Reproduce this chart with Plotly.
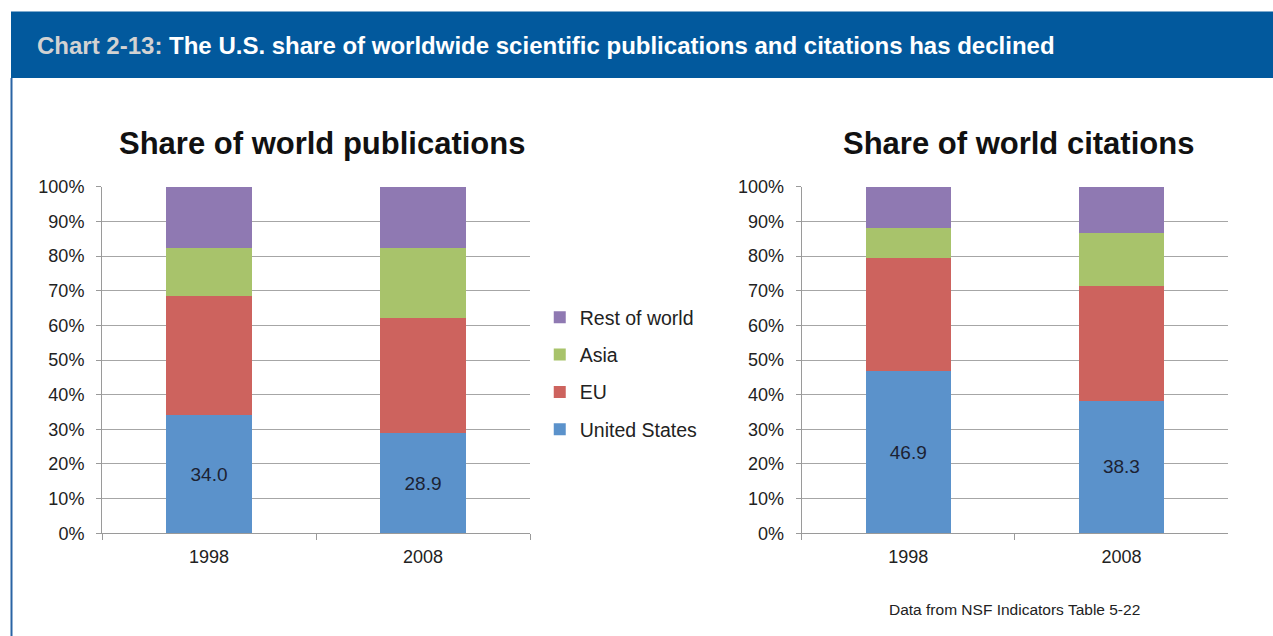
import plotly.graph_objects as go

years = ["1998", "2008"]
series_names = ["United States", "EU", "Asia", "Rest of world"]
legend_ranks = [4, 3, 2, 1]
colors = ["#5b92cb", "#cd635e", "#a8c36b", "#8f79b2"]

pub_us = [34.0, 28.9]
pub_eu = [34.6, 33.1]
pub_asia = [13.7, 20.3]
pub_rest = [17.7, 17.7]

cit_us = [46.9, 38.3]
cit_eu = [32.4, 33.1]
cit_asia = [8.7, 15.1]
cit_rest = [12.0, 13.5]

y_ticks = [0, 10, 20, 30, 40, 50, 60, 70, 80, 90, 100]
y_tick_labels = [f"{v}%" for v in y_ticks]

W, H = 1273, 636
FONT = "Liberation Sans, Arial, sans-serif"

fig = go.Figure()

pub = [pub_us, pub_eu, pub_asia, pub_rest]
cit = [cit_us, cit_eu, cit_asia, cit_rest]

for i, name in enumerate(series_names):
    fig.add_trace(go.Bar(
        x=years, y=pub[i], name=name, marker=dict(color=colors[i], line=dict(width=0)),
        width=0.4, xaxis="x", yaxis="y", legendgroup=name, legendrank=legend_ranks[i],
        showlegend=True,
        text=[f"{v:.1f}" for v in pub[i]] if i == 0 else None,
        textposition="inside" if i == 0 else "none", insidetextanchor="middle",
        textfont=dict(size=19, color="#1c2233", family=FONT),
        hoverinfo="name+y",
    ))
for i, name in enumerate(series_names):
    fig.add_trace(go.Bar(
        x=years, y=cit[i], name=name, marker=dict(color=colors[i], line=dict(width=0)),
        width=0.4, xaxis="x2", yaxis="y2", legendgroup=name, legendrank=legend_ranks[i],
        showlegend=False,
        text=[f"{v:.1f}" for v in cit[i]] if i == 0 else None,
        textposition="inside" if i == 0 else "none", insidetextanchor="middle",
        textfont=dict(size=19, color="#1c2233", family=FONT),
        hoverinfo="name+y",
    ))

ydom = [1 - 533.3 / H, 1 - 186.7 / H]
xdom1 = [102 / W, 530 / W]
xdom2 = [801.7 / W, 1228 / W]

axis_common_x = dict(
    type="category", showline=True, linecolor="#9a9a9a", linewidth=1,
    ticks="outside", tickson="boundaries", ticklen=6, tickcolor="#9a9a9a",
    showgrid=False, tickfont=dict(size=18, color="#222222", family=FONT),
    ticklabelstandoff=7, fixedrange=True, automargin=False,
)
axis_common_y = dict(
    range=[0, 100], tickvals=y_ticks, ticktext=y_tick_labels,
    showline=True, linecolor="#9a9a9a", linewidth=1,
    ticks="outside", ticklen=5, tickcolor="#9a9a9a",
    showgrid=True, gridcolor="#a6a6a6", gridwidth=1,
    tickfont=dict(size=18, color="#222222", family=FONT),
    ticklabelstandoff=8, zeroline=False, fixedrange=True, automargin=False,
)

fig.update_layout(
    width=W, height=H, autosize=False,
    margin=dict(l=0, r=0, t=0, b=0, pad=0, autoexpand=False),
    paper_bgcolor="white", plot_bgcolor="white",
    barmode="stack",
    font=dict(family=FONT, color="#222222"),
    xaxis=dict(domain=xdom1, anchor="y", **axis_common_x),
    yaxis=dict(domain=ydom, anchor="x", **axis_common_y),
    xaxis2=dict(domain=xdom2, anchor="y2", **axis_common_x),
    yaxis2=dict(domain=ydom, anchor="x2", **axis_common_y),
    legend=dict(
        x=0.424, y=1 - 298 / H, xanchor="left", yanchor="top",
        traceorder="grouped", tracegroupgap=9,
        font=dict(size=19.5, color="#222222", family=FONT),
        bgcolor="rgba(0,0,0,0)", itemwidth=30,
    ),
    showlegend=True,
)

# Banner and frame
fig.add_shape(type="rect", xref="paper", yref="paper",
              x0=11 / W, x1=1, y0=1 - 78 / H, y1=1 - 11.5 / H,
              fillcolor="#02599d", line=dict(width=0), layer="below")
fig.add_shape(type="line", xref="paper", yref="paper",
              x0=11.5 / W, x1=11.5 / W, y0=0, y1=1 - 78 / H,
              line=dict(color="#2a64a4", width=2))

fig.add_annotation(
    xref="paper", yref="paper", x=35 / W, y=1 - 45 / H, xanchor="left", yanchor="middle",
    text="<b><span style='color:#d2d2d2'>Chart 2-13:</span> The U.S. share of worldwide scientific publications and citations has declined</b>",
    showarrow=False, font=dict(size=24, color="white", family=FONT),
)

fig.add_annotation(
    xref="paper", yref="paper", x=322 / W, y=1 - 143 / H, xanchor="center", yanchor="middle",
    text="<b>Share of world publications</b>", showarrow=False,
    font=dict(size=31, color="#111111", family=FONT),
)
fig.add_annotation(
    xref="paper", yref="paper", x=1018 / W, y=1 - 143 / H, xanchor="center", yanchor="middle",
    text="<b>Share of world citations</b>", showarrow=False,
    font=dict(size=31, color="#111111", family=FONT),
)
fig.add_annotation(
    xref="paper", yref="paper", x=1014 / W, y=1 - 609 / H, xanchor="center", yanchor="middle",
    text="Data from NSF Indicators Table 5-22", showarrow=False,
    font=dict(size=15.5, color="#222222", family=FONT),
)

fig.write_html(
    "out.html",
    config={"displayModeBar": False},
    post_script=(
        "document.documentElement.style.margin='0';"
        "document.documentElement.style.overflow='hidden';"
        "document.body.style.margin='0';document.body.style.padding='0';"
        "document.body.style.overflow='hidden';"
        "var d=document.getElementById('{plot_id}');"
        "d.style.position='fixed';d.style.top='0px';d.style.left='0px';"
    ),
)
